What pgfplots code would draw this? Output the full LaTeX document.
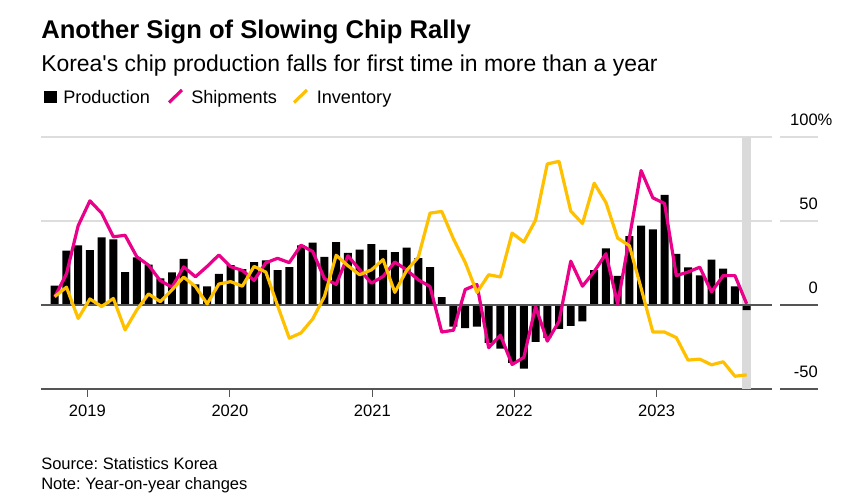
\documentclass[border=0pt]{standalone}
\usepackage{fontspec}
\setmainfont{Liberation Sans}
\usepackage{pgfplots}
\usepackage{pgfplotstable}
\pgfplotsset{compat=1.18}
\frenchspacing

\definecolor{shipcol}{RGB}{234,0,137}
\definecolor{invcol}{RGB}{255,192,0}
\definecolor{gridcol}{RGB}{221,221,221}
\definecolor{bandcol}{RGB}{218,218,218}
\definecolor{axcol}{RGB}{85,85,85}

% month index 0 = Sep 2018 ... 59 = Aug 2023, year-on-year % changes
\pgfplotstableread{
i prod ship inv
0 11.5 4.8 5
1 32.3 18.5 10.6
2 35.5 47.2 -8
3 32.7 62 3.6
4 40.3 54.7 -0.9
5 39 40.6 3.9
6 19.6 41.5 -14.8
7 28.4 28.7 -2.9
8 24 23.7 6.6
9 15.8 14.5 2
10 19.4 10.6 9
11 27.4 22.7 16.6
12 12.3 16.8 11
13 11.1 23 0.7
14 18.5 29.8 12.5
15 23.8 22.8 13.9
16 21.3 20.6 11.2
17 25.5 14.6 23
18 26.6 25.1 19.6
19 20.7 27.8 -0.3
20 22.5 25.2 -19.7
21 35.5 35.6 -16.6
22 37.1 31.8 -8.3
23 28.6 15.7 5.1
24 37.4 12.3 29.6
25 31.1 29.3 23.4
26 33 21 18
27 36.2 13 20.9
28 32.8 17 27
29 31.4 25.6 7.5
30 34.1 20.9 20.5
31 27.9 15 28.4
32 22.6 11 54.7
33 4.7 -16.1 55.7
34 -12.8 -15 39.3
35 -13.8 9.2 25.4
36 -12.8 12.2 7.5
37 -22.5 -25.4 18
38 -25.9 -18 16.7
39 -34.5 -35.4 42.8
40 -37.8 -31.2 37.5
41 -22 -0.9 50.5
42 -19.5 -21.5 84
43 -14.2 -9.8 85.5
44 -12.4 26.1 55.9
45 -9.8 11.2 48.5
46 20.7 19.9 72.5
47 33.7 30.5 61
48 17.4 0.6 39.8
49 41 40 35.3
50 47.3 80 10
51 45 63.8 -16.1
52 65.5 60.4 -16.1
53 30.4 17.5 -19.4
54 22.4 19.6 -32.8
55 17.7 22.5 -32.2
56 27 7.8 -35.6
57 21.6 17.5 -33.8
58 11.1 17.5 -42.4
59 -3 0.7 -41.6
}\chipdata

\begin{document}
\begin{tikzpicture}[x=0.75pt,y=-0.75pt]
\path (0,0) rectangle (847,499);

% titles
\node[anchor=base west,inner sep=0pt,font=\bfseries\fontsize{19.2}{22}\selectfont] at (41,39) {Another Sign of Slowing Chip Rally};
\node[anchor=base west,inner sep=0pt,font=\fontsize{17.2}{20}\selectfont] at (41,71.7) {Korea\textquotesingle s chip production falls for first time in more than a year};

% legend
\fill[black] (43.5,91) rectangle (56.5,103.5);
\node[anchor=base west,inner sep=0pt,font=\fontsize{13.6}{16}\selectfont] at (63,103.3) {Production};
\draw[shipcol,line width=2.4pt] (169,102.5) -- (182,90);
\node[anchor=base west,inner sep=0pt,font=\fontsize{13.6}{16}\selectfont] at (191,103.3) {Shipments};
\draw[invcol,line width=2.4pt] (294,102.5) -- (307,90);
\node[anchor=base west,inner sep=0pt,font=\fontsize{13.6}{16}\selectfont] at (316.5,103.3) {Inventory};

% gridline pieces under the value labels
\draw[gridcol,line width=0.8pt] (780,137) -- (818,137);
\draw[gridcol,line width=0.8pt] (780,221) -- (818,221);
\draw[axcol,line width=0.8pt] (780,305) -- (818,305);
\draw[axcol,line width=0.8pt] (780,389) -- (818,389);

\begin{axis}[
  at={(30.75pt,-291.75pt)}, anchor=south west,
  scale only axis, width=548.25pt, height=189pt,
  xmin=-1.17, xmax=61.16, ymin=-50, ymax=100,
  axis x line*=bottom, axis y line*=right,
  x axis line style={draw=axcol,line width=0.8pt,-},
  y axis line style={draw=none},
  xtick={2.78,14.94,27.08,39.18,51.32},
  xticklabels={2019,2020,2021,2022,2023},
  xtick style={draw=axcol,line width=0.8pt},
  xtick align=outside, major tick length=6pt,
  ytick={-50,0,50,100},
  yticklabels={-50,0,50,100\rlap{\%}},
  ytick style={draw=none},
  ymajorgrids, grid style={gridcol,line width=0.8pt},
  tick label style={font=\fontsize{12.4}{14}\selectfont},
  yticklabel style={anchor=base east,inner sep=0pt,xshift=34.5pt,yshift=8.5pt},
  xticklabel style={anchor=base,inner sep=0pt,yshift=-14.5pt},
]
\fill[bandcol] (axis cs:58.62,-50) rectangle (axis cs:59.38,100);
\addplot[ybar,bar width=0.68,fill=black,draw=none] table[x=i,y=prod] {\chipdata};
\draw[axcol,line width=0.8pt] (axis cs:-1.17,0) -- (axis cs:61.16,0);
\addplot[shipcol,line width=2.4pt,no markers,line join=round] table[x=i,y=ship] {\chipdata};
\addplot[invcol,line width=2.4pt,no markers,line join=round] table[x=i,y=inv] {\chipdata};
\end{axis}

% footnotes
\node[anchor=base west,inner sep=0pt,font=\fontsize{12.4}{14}\selectfont] at (41,469) {Source: Statistics Korea};
\node[anchor=base west,inner sep=0pt,font=\fontsize{12.4}{14}\selectfont] at (41,489) {Note: Year-on-year changes};
\end{tikzpicture}
\end{document}
